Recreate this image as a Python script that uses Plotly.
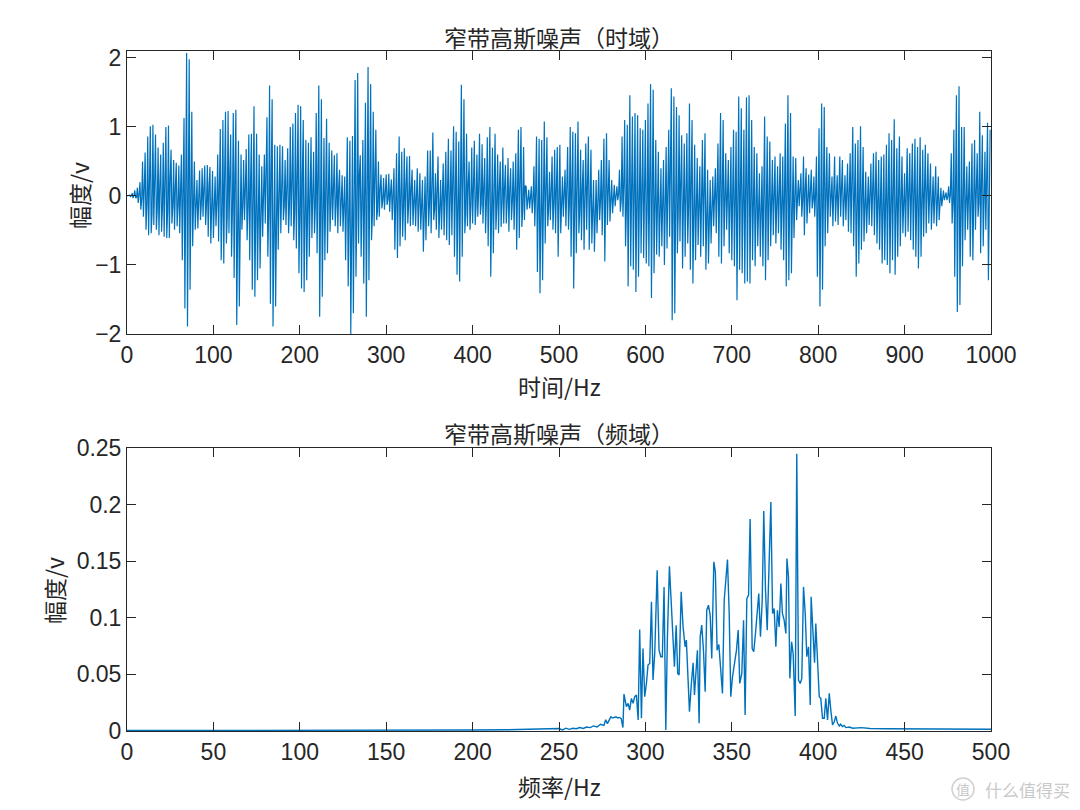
import plotly.graph_objects as go

# ---------------- time-domain samples (t = 0..999) ----------------
time_values = [
    0, 0, 0, 0.01, -0.01, 0.00, 0.04, -0.03, 0.01, 0.08, -0.03, -0.02, 0.12, -0.10, 0.03, 0.20, -0.20, -0.05, 0.50, -0.30, 0.10, 0.63, -0.49, -0.15, 0.86, -0.57, 0.20, 1.01, -0.54, -0.25,
    1.03, -0.42, 0.22, 0.89, -0.49, -0.20, 0.70, -0.57, 0.15, 0.60, -0.52, -0.18, 0.77, -0.59, 0.20, 1.00, -0.61, -0.22, 1.02, -0.61, 0.25, 0.67, -0.40, -0.15, 0.52, -0.49, 0.12, 0.48, -0.44, -0.14,
    0.44, -0.54, 0.10, 0.60, -0.93, -0.20, 1.13, -1.63, 0.30, 2.07, -1.89, 0.50, 1.98, -1.36, -0.30, 1.22, -0.73, 0.20, 0.50, -0.49, -0.15, 0.23, -0.47, 0.10, 0.37, -0.35, -0.12, 0.40, -0.30, 0.10,
    0.44, -0.42, -0.12, 0.45, -0.59, 0.15, 0.42, -0.69, -0.12, 0.36, -0.61, 0.10, 0.28, -0.44, -0.08, 0.60, -0.66, 0.15, 0.97, -0.93, -0.25, 1.10, -0.98, 0.30, 1.22, -0.69, -0.30, 1.23, -0.54, 0.30,
    0.89, -0.88, -0.20, 1.20, -1.19, 0.30, 1.25, -1.87, -0.35, 0.80, -1.60, 0.25, 0.60, -0.49, -0.15, 0.52, -0.35, 0.12, 0.68, -0.64, -0.15, 0.89, -0.93, 0.20, 0.90, -1.36, -0.25, 1.30, -1.46, 0.30,
    0.90, -1.22, -0.25, 0.60, -1.05, 0.20, 0.43, -0.59, -0.12, 0.60, -0.40, 0.15, 1.14, -0.88, -0.25, 1.60, -1.56, 0.35, 1.40, -1.89, -0.35, 0.74, -1.60, 0.20, 0.72, -0.78, -0.18, 0.74, -0.54, 0.18,
    0.72, -0.35, -0.15, 0.52, -0.42, 0.12, 0.69, -0.54, -0.15, 1.00, -0.44, 0.20, 1.05, -0.64, -0.22, 1.20, -0.76, 0.25, 1.32, -1.12, -0.30, 1.30, -1.34, 0.30, 1.10, -1.39, -0.25, 0.81, -1.22, 0.20,
    0.77, -0.88, -0.18, 0.85, -0.61, 0.20, 0.64, -0.54, -0.15, 1.20, -0.83, 0.25, 1.60, -1.75, -0.35, 1.40, -1.46, 0.30, 0.84, -0.93, -0.20, 1.12, -0.83, 0.20, 0.77, -0.52, -0.15, 0.66, -0.35, 0.12,
    0.59, -0.44, -0.12, 0.62, -0.54, 0.12, 0.38, -0.44, -0.10, 0.30, -0.52, 0.08, 0.28, -0.93, -0.10, 0.85, -1.31, 0.20, 0.80, -2.00, -0.30, 0.87, -1.70, 0.25, 1.68, -1.17, -0.30, 1.78, -0.69, 0.30,
    0.59, -0.88, -0.15, 0.81, -1.27, 0.20, 1.35, -1.75, -0.30, 1.87, -1.22, 0.35, 1.62, -0.64, -0.30, 1.22, -0.44, 0.25, 0.96, -0.35, -0.20, 0.50, -0.30, 0.10, 0.31, -0.18, -0.06, 0.26, -0.20, 0.05,
    0.31, -0.13, -0.05, 0.32, -0.23, 0.06, 0.24, -0.35, -0.06, 0.40, -0.78, 0.10, 0.62, -0.90, -0.15, 0.86, -0.73, 0.20, 0.64, -0.59, -0.15, 0.69, -0.64, 0.15, 0.57, -0.40, -0.12, 0.58, -0.44, 0.12,
    0.38, -0.42, -0.10, 0.23, -0.44, 0.06, 0.40, -0.52, -0.10, 0.33, -0.49, 0.08, 0.23, -0.81, -0.08, 0.28, -0.64, 0.08, 0.66, -0.44, -0.15, 0.66, -0.54, 0.12, 0.92, -0.35, -0.20, 0.33, -0.49, 0.10,
    0.57, -0.61, -0.12, 0.23, -0.49, 0.06, 0.47, -0.57, -0.10, 0.64, -0.64, 0.12, 0.83, -0.71, -0.18, 0.66, -0.57, 0.15, 1.01, -0.88, -0.22, 0.93, -1.14, 0.20, 0.79, -1.24, -0.20, 1.61, -0.88, 0.30,
    1.40, -0.54, -0.25, 0.90, -0.44, 0.18, 0.50, -0.49, -0.12, 0.70, -0.40, 0.12, 0.80, -0.42, -0.15, 0.60, -0.30, 0.10, 0.90, -0.27, -0.12, 0.75, -0.40, 0.12, 0.55, -0.54, -0.10, 0.85, -0.73, 0.15,
    1.00, -1.17, -0.20, 0.70, -0.83, 0.15, 0.90, -0.49, -0.15, 0.60, -0.54, 0.12, 0.50, -0.45, -0.10, 0.70, -0.40, 0.12, 0.45, -0.40, -0.10, 0.55, -0.52, 0.10, 0.40, -0.35, -0.08, 0.50, -0.49, 0.10,
    0.62, -0.78, -0.12, 0.96, -0.61, 0.18, 1.00, -0.45, -0.20, 0.71, -0.35, 0.15, 0.14, -0.20, -0.04, 0.09, -0.18, 0.03, 0.14, -0.25, -0.04, 0.43, -0.44, 0.08, 0.86, -1.10, -0.18, 0.83, -1.41, 0.18,
    0.81, -1.22, -0.18, 1.08, -0.69, 0.22, 0.85, -0.44, -0.18, 0.35, -0.35, 0.07, 0.57, -0.49, -0.10, 0.67, -0.54, 0.12, 0.71, -0.88, -0.15, 0.74, -0.54, 0.15, 0.28, -0.30, -0.06, 0.38, -0.44, 0.08,
    0.71, -0.49, -0.12, 1.00, -0.88, 0.20, 0.93, -1.34, -0.20, 0.91, -0.83, 0.18, 1.08, -0.54, -0.22, 0.67, -0.64, 0.12, 0.52, -0.78, -0.10, 0.76, -0.49, 0.15, 0.86, -0.78, -0.18, 0.67, -0.69, 0.12,
    0.23, -0.81, -0.05, 0.23, -0.54, 0.05, 0.38, -0.35, -0.07, 0.52, -0.57, 0.10, 0.83, -0.95, -0.15, 0.91, -0.42, 0.18, 0.52, -0.37, -0.10, 0.23, -0.25, 0.05, 0.16, -0.15, -0.03, 0.14, -0.06, 0.03,
    0.38, -0.23, -0.06, 0.86, -0.30, 0.15, 1.10, -0.73, -0.20, 1.03, -1.31, 0.20, 1.46, -1.02, -0.25, 1.15, -1.07, 0.22, 1.20, -1.39, -0.22, 1.17, -1.17, 0.20, 0.98, -0.83, -0.18, 0.96, -0.90, 0.18,
    1.10, -0.98, -0.20, 1.34, -1.02, 0.22, 1.62, -1.48, -0.30, 1.54, -1.12, 0.28, 0.81, -0.85, -0.15, 0.64, -0.88, 0.12, 0.40, -0.73, -0.08, 0.52, -1.00, 0.10, 0.71, -0.76, -0.12, 0.96, -0.59, 0.18,
    1.56, -1.80, -0.30, 1.44, -1.70, 0.28, 1.29, -0.83, -0.25, 1.17, -0.66, 0.20, 0.88, -1.05, -0.15, 0.76, -0.88, 0.15, 0.91, -0.69, -0.15, 1.34, -1.07, 0.25, 1.10, -1.27, -0.20, 0.74, -0.93, 0.15,
    0.55, -0.71, -0.10, 0.43, -0.88, 0.08, 0.81, -0.73, -0.15, 0.91, -1.07, 0.15, 0.38, -0.98, -0.08, 0.23, -0.69, 0.05, 0.28, -0.44, -0.06, 0.40, -0.54, 0.08, 0.76, -0.88, -0.15, 1.20, -0.98, 0.22,
    1.10, -0.73, -0.20, 0.62, -0.49, 0.12, 0.52, -0.83, -0.10, 0.71, -0.93, 0.12, 0.96, -1.02, -0.18, 0.93, -1.51, 0.18, 1.44, -1.07, -0.25, 1.27, -1.12, 0.22, 0.96, -1.27, -0.18, 1.43, -1.24, 0.25,
    1.46, -1.27, -0.25, 1.10, -0.93, 0.20, 0.71, -1.02, -0.12, 0.62, -0.73, 0.10, 0.33, -0.88, -0.06, 0.43, -1.02, 0.08, 1.15, -1.22, -0.20, 0.86, -0.93, 0.15, 0.79, -0.73, -0.15, 0.52, -0.57, 0.10,
    0.57, -0.69, -0.10, 0.43, -0.54, 0.08, 0.62, -0.78, -0.12, 0.57, -0.93, 0.10, 1.05, -1.31, -0.20, 1.46, -1.22, 0.25, 1.20, -1.12, -0.20, 0.57, -0.61, 0.10, 0.55, -0.35, -0.10, 0.23, -0.15, 0.04,
    0.33, -0.30, -0.06, 0.57, -0.57, 0.10, 0.40, -0.40, -0.08, 0.31, -0.25, 0.06, 0.38, -0.18, -0.06, 0.28, -0.30, 0.05, 0.57, -1.17, -0.10, 0.98, -1.60, 0.18, 1.34, -1.36, -0.25, 1.29, -0.73, 0.22,
    0.71, -0.54, -0.12, 0.62, -0.30, 0.10, 0.28, -0.44, -0.05, 0.57, -0.37, 0.10, 0.30, -0.42, -0.06, 0.57, -0.30, 0.10, 0.52, -0.44, -0.10, 0.30, -0.35, 0.06, 0.47, -0.52, -0.08, 0.62, -0.54, 0.10,
    1.00, -0.73, -0.18, 0.76, -1.17, 0.15, 0.81, -0.98, -0.15, 1.01, -0.78, 0.18, 0.71, -0.66, -0.12, 0.35, -0.54, 0.06, 0.28, -0.42, -0.05, 0.47, -0.44, 0.08, 0.62, -0.57, -0.10, 0.64, -0.69, 0.12,
    0.52, -0.78, -0.10, 0.57, -0.98, 0.10, 0.60, -0.93, -0.08, 0.74, -1.00, 0.12, 0.91, -1.12, -0.15, 0.81, -0.93, 0.15, 1.11, -1.14, -0.20, 0.69, -0.88, 0.12, 0.86, -0.73, -0.15, 0.57, -0.54, 0.10,
    0.33, -0.59, -0.06, 0.69, -0.52, 0.10, 0.62, -0.64, -0.10, 0.76, -0.78, 0.12, 0.83, -0.88, -0.15, 0.71, -1.05, 0.12, 0.85, -0.88, -0.15, 0.67, -0.59, 0.10, 0.74, -0.54, -0.12, 0.62, -0.40, 0.10,
    0.47, -0.49, -0.08, 0.28, -0.40, 0.05, 0.43, -0.44, -0.06, 0.28, -0.35, 0.05, 0.12, -0.15, -0.03, 0.08, -0.06, 0.02, 0.05, -0.06, -0.01, 0.14, -0.10, 0.03, 0.62, -0.40, -0.10, 0.96, -1.17, 0.15,
    1.46, -1.68, -0.25, 1.59, -1.58, 0.30, 1.00, -1.02, -0.20, 1.00, -0.64, 0.15, 0.43, -0.49, -0.08, 0.50, -0.88, 0.08, 0.76, -0.93, -0.12, 0.81, -0.49, 0.12, 0.62, -0.30, -0.10, 1.22, -0.83, 0.20,
    0.88, -0.73, -0.15, 0.64, -0.49, 0.10, 1.06, -1.22, 0.20, 0.96,
]
time_axis = list(range(len(time_values)))

# ---------------- spectrum ----------------
freq_hz = [
    0, 25, 50, 75, 100, 125, 150, 175, 200, 220, 235, 245, 250, 252, 254, 256, 258, 260, 262, 264,
    266, 268, 270, 272, 274, 276, 277, 278, 279, 280, 281, 282, 283, 284, 285, 286, 287,
    287.6, 289.0, 290.0, 290.9, 291.9, 292.9, 293.8, 294.8, 295.8, 296.7, 297.7, 298.6, 299.6, 300.6,
    301.5, 302.5, 303.5, 304.4, 305.4, 306.8, 307.9, 308.9, 309.8, 310.8, 311.8, 312.7, 313.9, 315.1,
    316.0, 316.8, 317.8, 318.7, 319.5, 320.7, 321.8, 323.0, 323.7, 324.5, 325.5, 326.6, 327.6, 328.4,
    329.3, 330.1, 331.1, 331.7, 332.6, 333.6, 334.6, 335.5, 336.5, 337.5, 338.4, 339.6, 340.5, 341.5,
    342.5, 343.6, 344.6, 345.6, 346.5, 347.5, 348.5, 349.4, 350.4, 351.5, 352.7, 353.7, 354.6, 355.8,
    356.8, 357.7, 358.7, 359.7, 360.6, 361.8, 362.7, 363.7, 364.7, 365.6, 366.6, 367.6, 368.5, 369.5,
    370.5, 371.6, 372.6, 373.6, 374.5, 375.5, 376.4, 377.4, 378.4, 379.3, 380.3, 381.3, 381.9, 382.8,
    383.6, 384.6, 385.5, 386.7, 387.6, 388.6, 389.6, 390.5, 391.5, 392.5, 393.4, 394.4, 395.4, 395.9,
    396.9, 397.9, 398.6, 399.6, 400.6, 401.5, 402.5, 403.5, 404.4, 405.4, 406.4, 407.3, 408.3, 409.3,
    410.2, 411.2, 412.2, 413, 414, 415, 416, 418, 420, 425, 430, 440, 460, 480, 500,
]
amplitude = [
    0.0004, 0.0004, 0.0004, 0.0004, 0.0005, 0.0005, 0.0006, 0.0007, 0.0009, 0.0011, 0.0014, 0.0018, 0.0022, 0.0010, 0.0025, 0.0015, 0.0024, 0.0020, 0.0030, 0.0022,
    0.0035, 0.0030, 0.0045, 0.0035, 0.0060, 0.0050, 0.0100, 0.0065, 0.0100, 0.0125, 0.0115, 0.0120, 0.0125, 0.0115, 0.0120, 0.0110, 0.0030,
    0.0326, 0.0215, 0.0244, 0.0185, 0.0288, 0.0244, 0.0303, 0.0318, 0.0097, 0.0897, 0.0112, 0.0729, 0.0303, 0.0420,
    0.0582, 0.0597, 0.1141, 0.0450, 0.0685, 0.1420, 0.0714, 0.0656, 0.0656, 0.1273, 0.0009, 0.0803, 0.1455, 0.1097,
    0.0744, 0.0567, 0.0935, 0.0509, 0.0494, 0.1229, 0.0920, 0.0744, 0.0803, 0.0509, 0.0171, 0.0420, 0.0603, 0.0318,
    0.0553, 0.0714, 0.0068, 0.0832, 0.0935, 0.0714, 0.0347, 0.1067, 0.1111, 0.1023, 0.0641, 0.1494, 0.1405, 0.0714,
    0.0764, 0.0567, 0.0332, 0.1155, 0.1332, 0.1514, 0.1038, 0.0303, 0.0479, 0.0597, 0.0714, 0.0891, 0.0420, 0.0509,
    0.0979, 0.0141, 0.1170, 0.1200, 0.1873, 0.0729, 0.0700, 0.0861, 0.1067, 0.1214, 0.0832, 0.1155, 0.1943, 0.1244,
    0.0891, 0.1391, 0.2023, 0.1038, 0.1082, 0.0744, 0.1067, 0.0920, 0.1302, 0.1038, 0.0979, 0.0861, 0.1523, 0.1361,
    0.0465, 0.0788, 0.0685, 0.0132, 0.2449, 0.0450, 0.0420, 0.0465, 0.1273, 0.1038, 0.0656, 0.0744, 0.0229, 0.1185,
    0.0920, 0.0603, 0.0950, 0.0656, 0.0303, 0.0288, 0.0112, 0.0112, 0.0288, 0.0097, 0.0332, 0.0185, 0.0053, 0.0082,
    0.0132, 0.0068, 0.0044, 0.0060, 0.0040, 0.0050, 0.0030, 0.0035, 0.0025, 0.0030, 0.0022, 0.0020, 0.0018, 0.0016, 0.0015,
]

time_ticks = [0, 100, 200, 300, 400, 500, 600, 700, 800, 900, 1000]
time_yticks = [-2, -1, 0, 1, 2]
freq_ticks = [0, 50, 100, 150, 200, 250, 300, 350, 400, 450, 500]
freq_yticks = [0, 0.05, 0.1, 0.15, 0.2, 0.25]
freq_yticklabels = ["0", "0.05", "0.1", "0.15", "0.2", "0.25"]

LINE = "#0072BD"
AX = "#262626"
NUM_FONT = dict(family="Liberation Sans, Arial, sans-serif", size=23, color=AX)
CJK = "Noto Sans CJK SC"
CJK_FONT = dict(family=CJK, size=23, color=AX)

fig = go.Figure()
fig.add_trace(go.Scatter(x=time_axis, y=time_values, mode="lines",
                         line=dict(color=LINE, width=1.2), xaxis="x", yaxis="y",
                         showlegend=False, hoverinfo="skip"))
fig.add_trace(go.Scatter(x=freq_hz, y=amplitude, mode="lines",
                         line=dict(color=LINE, width=1.4), xaxis="x2", yaxis="y2",
                         showlegend=False, hoverinfo="skip"))

W, H = 1080, 810
xl, xr = 127, 991
t_top, t_bot = 51, 334
b_top, b_bot = 448, 731
xc = (xl + xr) / 2


def ax_common():
    return dict(showline=True, linecolor=AX, linewidth=1, mirror="ticks",
                ticks="inside", ticklen=9, tickwidth=1, tickcolor=AX,
                showgrid=False, zeroline=False, tickfont=NUM_FONT, automargin=False)


def px_note(text, x, y, font, angle=0, xanchor="center", yanchor="middle"):
    return dict(text=text, x=x / W, y=(H - y) / H, xref="paper", yref="paper",
                xanchor=xanchor, yanchor=yanchor, showarrow=False, textangle=angle, font=font)


fig.update_layout(
    width=W, height=H,
    margin=dict(l=0, r=0, t=0, b=0, pad=0),
    paper_bgcolor="white", plot_bgcolor="white",
    xaxis=dict(domain=[xl / W, xr / W], range=[0, 1000], tickvals=time_ticks, anchor="y", **ax_common()),
    yaxis=dict(domain=[(H - t_bot) / H, (H - t_top) / H], range=[-2.0, 2.1], tickvals=time_yticks,
               anchor="x", **ax_common()),
    xaxis2=dict(domain=[xl / W, xr / W], range=[0, 500], tickvals=freq_ticks, anchor="y2", **ax_common()),
    yaxis2=dict(domain=[(H - b_bot) / H, (H - b_top) / H], range=[0, 0.25], tickvals=freq_yticks,
                ticktext=freq_yticklabels, anchor="x2", **ax_common()),
    annotations=[
        px_note("窄带高斯噪声（时域）", xc, 37, CJK_FONT),
        px_note("窄带高斯噪声（频域）", xc, 433, CJK_FONT),
        px_note("时间/Hz", xc, 386, CJK_FONT),
        px_note("频率/Hz", xc, 786, CJK_FONT),
        px_note("幅度/v", 79, 196, CJK_FONT, angle=-90),
        px_note("幅度/v", 54, 591, CJK_FONT, angle=-90),
        px_note("值", 963, 789, dict(family=CJK, size=14, color="#c9c9c9")),
        px_note("什么值得买", 983, 789, dict(family=CJK, size=17, color="#c9c9c9"), xanchor="left"),
    ],
    shapes=[
        dict(type="circle", xref="paper", yref="paper",
             x0=952 / W, x1=974 / W, y0=(H - 800) / H, y1=(H - 778) / H,
             line=dict(color="#d0d0d0", width=1.5)),
    ],
)

fig.write_html("out.html")
